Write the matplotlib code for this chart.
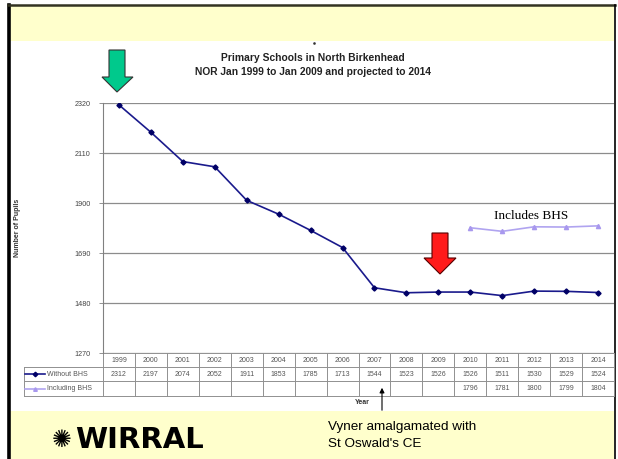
import numpy as np
import matplotlib.pyplot as plt
from matplotlib.patches import Rectangle, Polygon

years = ['1999', '2000', '2001', '2002', '2003', '2004', '2005', '2006',
         '2007', '2008', '2009', '2010', '2011', '2012', '2013', '2014']
without_bhs = [2312, 2197, 2074, 2052, 1911, 1853, 1785, 1713,
               1544, 1523, 1526, 1526, 1511, 1530, 1529, 1524]
including_bhs = [None] * 11 + [1796, 1781, 1800, 1799, 1804]
yticks = [1270, 1480, 1690, 1900, 2110, 2320]

W, H = 618, 459
fig = plt.figure(figsize=(W / 100, H / 100), dpi=100)
fig.patch.set_facecolor('white')

# background slide (pixel coords, y downwards)
bg = fig.add_axes([0, 0, 1, 1], zorder=0)
bg.set_xlim(0, W)
bg.set_ylim(H, 0)
bg.axis('off')
bg.add_patch(Rectangle((9, 6), 605, 35, color='#FFFFCC', lw=0))
bg.add_patch(Rectangle((9, 411), 605, 50, color='#FFFFCC', lw=0))
bg.plot([8.5, 8.5], [5, 459], color='black', lw=2.6)
bg.plot([8, 615], [5, 5], color='#333322', lw=1.8)
bg.plot([614.5, 614.5], [5, 459], color='black', lw=1.2)

# main chart
L, R, T, B = 103, 614, 103, 353
ax = fig.add_axes([L / W, (H - B) / H, (R - L) / W, (B - T) / H], zorder=2)
ax.set_facecolor('none')
x = np.arange(len(years))
ax.plot(x, without_bhs, color='#1a1a8c', lw=1.2, marker='D', ms=2.6,
        mfc='#000066', mec='#000066')
inc = np.array([np.nan if v is None else v for v in including_bhs], dtype=float)
ax.plot(x, inc, color='#b0a4f0', lw=1.2, marker='^', ms=3,
        mfc='#a898ee', mec='#a898ee')
ax.set_xlim(-0.5, len(years) - 0.5)
ax.set_ylim(1270, 2320)
ax.set_yticks(yticks)
ax.set_yticklabels([str(t) for t in yticks], fontsize=5.2, color='#444444',
                   family='Liberation Sans')
ax.tick_params(axis='y', length=3, width=0.6, color='#808080', pad=6)
ax.set_xticks([])
ax.grid(axis='y', color='#8c8c8c', lw=0.9)
for s in ['top', 'right', 'bottom']:
    ax.spines[s].set_visible(False)
ax.spines['left'].set_color('#808080')
ax.spines['left'].set_linewidth(0.8)
ax.text(-0.167, 0.5, 'Number of Pupils', transform=ax.transAxes, rotation=90,
        ha='center', va='center', fontsize=5, fontweight='bold',
        color='#333333', family='Liberation Sans')

# data table under the axis
ph = B - T
rows = [0, -14 / ph, -28 / ph, -43 / ph]
lab_left = (24 - L) / (R - L)
tr = ax.get_xaxis_transform()
gc = '#909090'
for i, yy in enumerate(rows):
    if i == 0:
        ax.plot([-0.5, len(years) - 0.5], [yy, yy], transform=tr, color=gc,
                lw=0.7, clip_on=False)
    else:
        ax.plot([lab_left, 1], [yy, yy], transform=ax.transAxes, color=gc,
                lw=0.7, clip_on=False)
for k in range(len(years) + 1):
    ax.plot([k - 0.5, k - 0.5], [rows[0], rows[3]], transform=tr, color=gc,
            lw=0.7, clip_on=False)
ax.plot([lab_left, lab_left], [rows[1], rows[3]], transform=ax.transAxes,
        color=gc, lw=0.7, clip_on=False)
for k, yr in enumerate(years):
    ax.text(k, (rows[0] + rows[1]) / 2, yr, transform=tr, ha='center',
            va='center', fontsize=5, color='#555555', family='Liberation Sans')
    ax.text(k, (rows[1] + rows[2]) / 2, str(without_bhs[k]), transform=tr,
            ha='center', va='center', fontsize=5, color='#555555',
            family='Liberation Sans')
    if including_bhs[k] is not None:
        ax.text(k, (rows[2] + rows[3]) / 2, str(including_bhs[k]),
                transform=tr, ha='center', va='center', fontsize=5,
                color='#555555', family='Liberation Sans')
ax.text(0.508, -50 / ph, 'Year', transform=ax.transAxes, ha='center',
        va='center', fontsize=5, fontweight='bold', color='#333333',
        family='Liberation Sans')

# foreground decorations
fg = fig.add_axes([0, 0, 1, 1], zorder=3)
fg.set_xlim(0, W)
fg.set_ylim(H, 0)
fg.axis('off')
fg.set_facecolor('none')
fg.text(313, 58, 'Primary Schools in North Birkenhead', ha='center',
        va='center', fontsize=7.4, fontweight='bold', color='#222222',
        family='Liberation Sans')
fg.text(313, 72, 'NOR Jan 1999 to Jan 2009 and projected to 2014',
        ha='center', va='center', fontsize=7.4, fontweight='bold',
        color='#222222', family='Liberation Sans')
fg.plot(314, 43, marker='s', ms=0.8, color='#333333')
fg.text(531, 216, 'Includes BHS', ha='center', va='center', fontsize=9.5,
        family='Liberation Serif')
# legend keys in the table
fg.plot([25, 45], [374, 374], color='#1a1a8c', lw=1.2)
fg.plot(35, 374, marker='D', ms=2.3, color='#000066')
fg.text(47, 374, 'Without BHS', va='center', fontsize=5, color='#555555',
        family='Liberation Sans')
fg.plot([25, 45], [388.5, 388.5], color='#b0a4f0', lw=1.2)
fg.plot(35, 388.5, marker='^', ms=2.6, color='#a898ee')
fg.text(47, 388.5, 'Including BHS', va='center', fontsize=5,
        color='#555555', family='Liberation Sans')
# arrows
fg.add_patch(Polygon([(109, 50), (125, 50), (125, 77), (133, 77), (117, 92),
                      (102, 77), (109, 77)], closed=True, fc='#00c98c',
                     ec='#333333', lw=0.8))
fg.add_patch(Polygon([(432, 233), (448, 233), (448, 258), (456, 258),
                      (440, 274), (424, 258), (432, 258)], closed=True,
                     fc='#ff1a1a', ec='#550000', lw=0.8))
fg.annotate('', xy=(382, 385), xytext=(382, 413),
            arrowprops=dict(arrowstyle='-|>', color='black', lw=0.8,
                            mutation_scale=7))
fg.text(328, 427, 'Vyner amalgamated with', va='center', fontsize=9.7,
        family='Liberation Sans')
fg.text(328, 444, "St Oswald's CE", va='center', fontsize=9.7,
        family='Liberation Sans')
# logo
fg.text(52, 440, '\u273a', va='center', ha='left', fontsize=17,
        fontweight='bold', family='DejaVu Sans')
fg.text(75, 440, 'WIRRAL', va='center', ha='left', fontsize=21,
        fontweight='heavy', family='DejaVu Sans')

fig.savefig('out.png', dpi=100)
